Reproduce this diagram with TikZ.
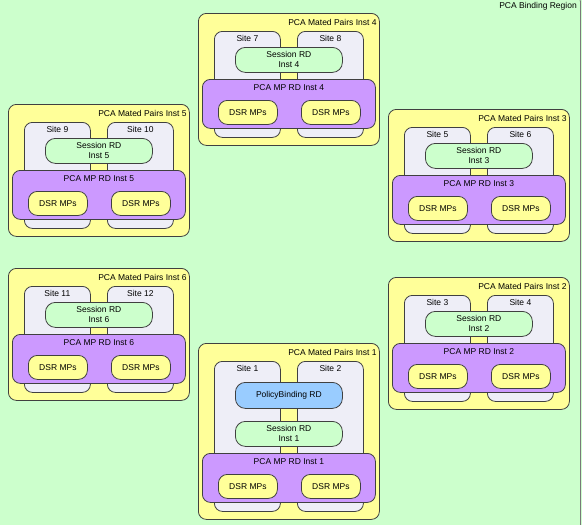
\documentclass[tikz,border=0pt]{standalone}
\usepackage{fontspec}
\setmainfont{Liberation Sans}
\definecolor{regiongreen}{HTML}{CCFFCC}
\definecolor{pairyellow}{HTML}{FFFF99}
\definecolor{sitegray}{HTML}{EEEEF7}
\definecolor{rdpurple}{HTML}{CC99FF}
\definecolor{rdblue}{HTML}{99CCFF}
\definecolor{edgegray}{HTML}{404040}

% #1 inst, #2 left, #3 top, #4/#5 sites, #6 extra height
\newcommand\matedpair[6]{%
  \node[box, fill=pairyellow, minimum width=181pt, minimum height=132pt+#6pt]
        (pair#1) at (#2,#3) {};
  \node[anchor=east] at ([xshift=-3pt,yshift=-9pt]pair#1.north east) {PCA Mated Pairs Inst #1};
  % sites
  \node[box, fill=sitegray, minimum width=66pt, minimum height=106pt+#6pt]
        (site#4) at (#2+16,#3+18) {};
  \node at ([yshift=-7.5pt]site#4.north) {Site #4};
  \node[box, fill=sitegray, minimum width=66pt, minimum height=106pt+#6pt]
        (site#5) at (#2+99,#3+18) {};
  \node at ([yshift=-7.5pt]site#5.north) {Site #5};
  % session RD
  \node[box, fill=regiongreen, rounded corners=10pt, align=center,
        minimum width=107pt, minimum height=25pt]
        (session#1) at (#2+37,#3+34+#6) {Session RD\\Inst #1};
  % MP RD
  \node[box, fill=rdpurple, minimum width=173pt, minimum height=49pt]
        (mprd#1) at (#2+4,#3+66+#6) {};
  \node at ([yshift=-9pt]mprd#1.north) {PCA MP RD Inst #1};
  \node[box, fill=pairyellow, rounded corners=9pt, minimum width=59pt, minimum height=24pt]
        (dsrA#1) at (#2+20,#3+87+#6) {DSR MPs};
  \node[box, fill=pairyellow, rounded corners=9pt, minimum width=59pt, minimum height=24pt]
        (dsrB#1) at (#2+103,#3+87+#6) {DSR MPs};
}

\begin{document}
\begin{tikzpicture}[x=1pt, y=-1pt,
    every node/.style={inner sep=0pt, font=\fontsize{8.5}{10}\selectfont},
    box/.style={draw=edgegray, line width=0.8pt, rounded corners=8pt, anchor=north west}]
\useasboundingbox (0,0) rectangle (582,525);

  % binding region
  \fill[regiongreen] (0,0) rectangle (582,525);
  \draw[edgegray!70, line width=0.8pt, rounded corners=8pt] (-10,-6) rectangle (580.5,540);
  \node[anchor=east] (region) at (577,6) {PCA Binding Region};

  % mated pairs
  \matedpair{4}{198}{13}{7}{8}{0}
  \matedpair{5}{8}{104}{9}{10}{0}
  \matedpair{3}{388}{109}{5}{6}{0}
  \matedpair{6}{8}{268}{11}{12}{0}
  \matedpair{2}{388}{277}{3}{4}{0}
  \matedpair{1}{198}{343}{1}{2}{44}

  % policy binding
  \node[box, fill=rdblue, rounded corners=10pt, minimum width=107pt, minimum height=26pt]
        (policy) at (235,382) {PolicyBinding RD};
\end{tikzpicture}
\end{document}
